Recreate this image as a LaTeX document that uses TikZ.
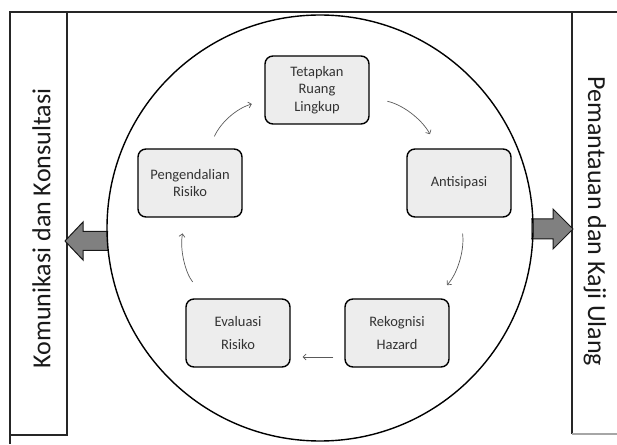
\documentclass[tikz,border=0pt]{standalone}
\usepackage{fontspec}
\setmainfont{Carlito}
\usetikzlibrary{positioning,arrows.meta}

\tikzset{
  stage/.style={draw, rounded corners=8pt, line width=1.4pt, fill=black!7, text=black!80,
    minimum width=104pt, minimum height=68pt, align=center, font=\fontsize{14.5}{17.5}\selectfont},
  sidetext/.style={font=\fontsize{26}{30}\selectfont, text=black!90},
  flowline/.style={-{Straight Barb[length=3pt, width=6pt]}, draw=black!65, line width=0.7pt},
  frameline/.style={line width=1.4pt, draw=black!85},
  block/.style={draw=black!90, line width=1pt, fill=black!50}
}

\begin{document}
\begin{tikzpicture}[x=1pt,y=1pt]
        \useasboundingbox (0,0) rectangle (617,444);

        % outer frame and side panels
        \draw[frameline, line width=1.7pt] (10,432) -- (617,432);
        \draw[frameline] (10,432) -- (10,0);
        \draw[frameline] (10,9) rectangle (67,432);
        \draw[frameline] (572,432) -- (572,10);
        \draw[line width=1.4pt, black!35] (572,10) -- (617,10);

        % block arrows
        \draw[block] (108,212.5) -- (83,212.5) -- (83,222) -- (65,203) -- (83,184) -- (83,193.5) -- (108,193.5);
        \draw[block] (531,225) -- (553,225) -- (553,235) -- (573,215) -- (553,195) -- (553,205) -- (531,205);

        \node (wheel) [circle, draw, line width=1.4pt, minimum size=426pt, inner sep=0pt] at (320,216) {};

        \node (komlab) [sidetext, rotate=90] at (41.5,215.5) {Komunikasi dan Konsultasi};
        \node (pemlab) [sidetext, rotate=-90] at (595,222.5) {Pemantauan dan Kaji Ulang};

        \node (tetap) [stage] at (317,354) {Tetapkan\\Ruang\\Lingkup};
        \node (anti) [stage] at (459,261) {Antisipasi};
        \node (rek) [stage] at (397,111) {Rekognisi\\[5.5pt]Hazard};
        \node (eval) [stage] at (238,111) {Evaluasi\\[5.5pt]Risiko};
        \node (peng) [stage] at (190,261) {Pengendalian\\Risiko};

        \path[flowline] (peng)  edge[bend left=25, shorten <=13pt, shorten >=13pt] (tetap)
                        (tetap) edge[bend left=25, shorten <=18pt, shorten >=16pt] (anti)
                        (anti)  edge[bend left=25, shorten <=16pt, shorten >=18pt] (rek)
                        (eval)  edge[bend left=25, shorten <=21pt, shorten >=16pt] (peng);
        \draw[flowline, shorten <=11pt, shorten >=12pt] ([yshift=-24pt]rek.west) -- ([yshift=-24pt]eval.east);

    \end{tikzpicture}
\end{document}
